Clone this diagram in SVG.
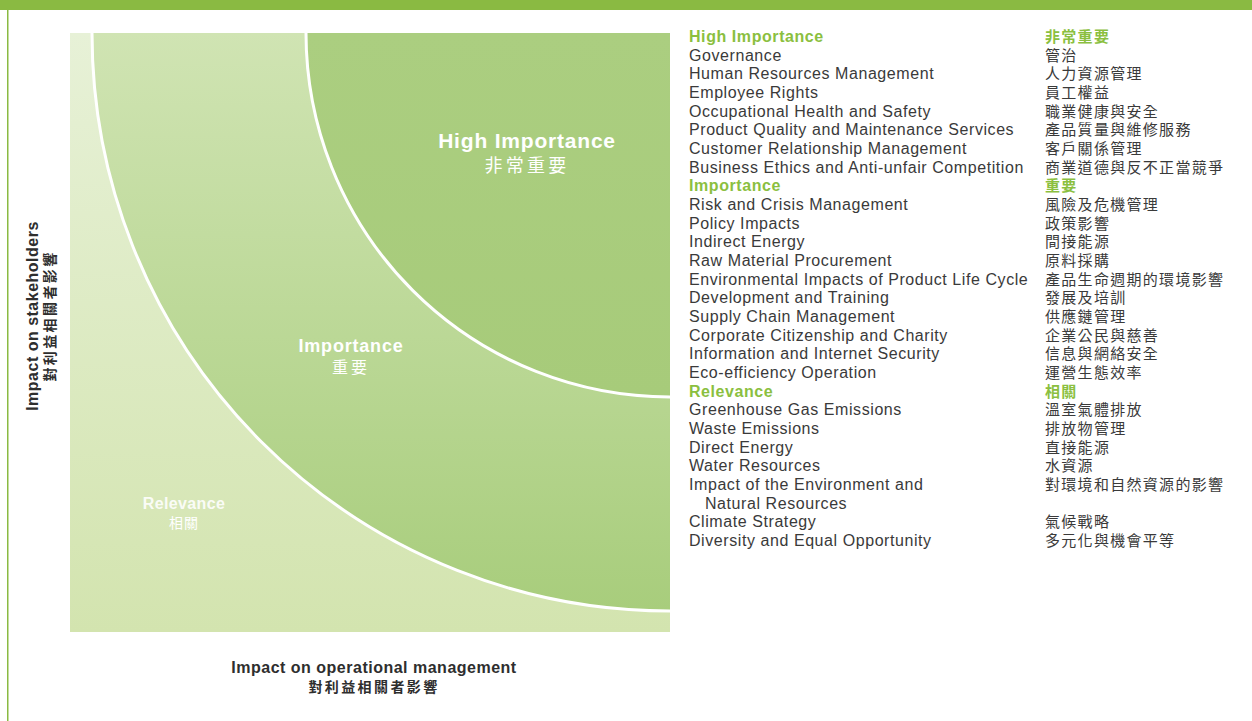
<svg xmlns="http://www.w3.org/2000/svg" width="1252" height="721" viewBox="0 0 1252 721">
<defs>
<linearGradient id="gRel" x1="0" y1="0" x2="0" y2="1"><stop offset="0" stop-color="#e7f1d7"/><stop offset="1" stop-color="#d3e4af"/></linearGradient>
<linearGradient id="gImp" x1="0" y1="0" x2="0" y2="1"><stop offset="0" stop-color="#d0e4b3"/><stop offset="1" stop-color="#a8cd7c"/></linearGradient>
<linearGradient id="gHigh" x1="0" y1="0" x2="0" y2="1"><stop offset="0" stop-color="#abce80"/><stop offset="1" stop-color="#a7cb7a"/></linearGradient>
<style>
.en{font-family:"Liberation Sans",Arial,sans-serif;font-size:16px;fill:#3a3a3a;letter-spacing:0.57px}
.zh{font-family:"Noto Sans CJK TC","Noto Sans CJK SC",sans-serif;font-size:15px;fill:#3a3a3a;letter-spacing:1.3px}
.hd{fill:#8bbf3f;font-weight:bold}
.lbl{font-family:"Liberation Sans",Arial,sans-serif;font-weight:bold;fill:#ffffff;text-anchor:middle}
.lblz{font-family:"Noto Sans CJK TC","Noto Sans CJK SC",sans-serif;fill:#ffffff;text-anchor:middle}
.ax{font-family:"Liberation Sans",Arial,sans-serif;font-weight:bold;font-size:16px;fill:#2e2e2e;text-anchor:middle;letter-spacing:0.5px}
.axz{font-family:"Noto Sans CJK TC","Noto Sans CJK SC",sans-serif;font-weight:bold;font-size:14px;fill:#2e2e2e;text-anchor:middle;letter-spacing:2.4px}
.sep{fill:none;stroke:#ffffff;stroke-width:3}
</style>
</defs>
<rect x="0" y="0" width="1252" height="721" fill="#ffffff"/>
<rect x="0" y="0" width="1252" height="10" fill="#8aba42"/>
<rect x="7" y="10" width="1.5" height="711" fill="#8aba42"/>

<g id="relevance">
<rect x="70" y="33" width="600" height="599" fill="url(#gRel)"/>
<text class="lbl" x="184" y="509" font-size="16" letter-spacing="0.35" fill-opacity="0.9">Relevance</text>
<text class="lblz" x="184" y="528" font-size="14" letter-spacing="1">相關</text>
</g>
<g id="importance">
<path d="M670,33 L92,33 A578,578 0 0 0 670,611 Z" fill="url(#gImp)"/>
<path class="sep" d="M92,33 A578,578 0 0 0 670,611"/>
<text class="lbl" x="351" y="352" font-size="18" letter-spacing="0.8">Importance</text>
<text class="lblz" x="351" y="373" font-size="16" letter-spacing="3">重要</text>
</g>
<g id="high-importance">
<path d="M670,33 L306,33 A364,364 0 0 0 670,397 Z" fill="url(#gHigh)"/>
<path class="sep" d="M306,33 A364,364 0 0 0 670,397"/>
<text class="lbl" x="527" y="148" font-size="21" letter-spacing="0.8">High Importance</text>
<text class="lblz" x="527" y="172" font-size="18" letter-spacing="3.2">非常重要</text>
</g>

<g id="y-axis">
<text class="ax" transform="translate(38,316) rotate(-90)">Impact on stakeholders</text>
<text class="axz" transform="translate(55,316) rotate(-90)">對利益相關者影響</text>
</g>
<g id="x-axis">
<text class="ax" x="374" y="673">Impact on operational management</text>
<text class="axz" x="374" y="692">對利益相關者影響</text>
</g>

<g id="list-en">
<text class="en hd" x="689" y="42">High Importance</text>
<text class="en" x="689" y="60.7">Governance</text>
<text class="en" x="689" y="79.3">Human Resources Management</text>
<text class="en" x="689" y="98">Employee Rights</text>
<text class="en" x="689" y="116.7">Occupational Health and Safety</text>
<text class="en" x="689" y="135.3">Product Quality and Maintenance Services</text>
<text class="en" x="689" y="154">Customer Relationship Management</text>
<text class="en" x="689" y="172.7">Business Ethics and Anti-unfair Competition</text>
<text class="en hd" x="689" y="191.3">Importance</text>
<text class="en" x="689" y="210">Risk and Crisis Management</text>
<text class="en" x="689" y="228.7">Policy Impacts</text>
<text class="en" x="689" y="247.3">Indirect Energy</text>
<text class="en" x="689" y="266">Raw Material Procurement</text>
<text class="en" x="689" y="284.7">Environmental Impacts of Product Life Cycle</text>
<text class="en" x="689" y="303.3">Development and Training</text>
<text class="en" x="689" y="322">Supply Chain Management</text>
<text class="en" x="689" y="340.7">Corporate Citizenship and Charity</text>
<text class="en" x="689" y="359.3">Information and Internet Security</text>
<text class="en" x="689" y="378">Eco-efficiency Operation</text>
<text class="en hd" x="689" y="396.7">Relevance</text>
<text class="en" x="689" y="415.3">Greenhouse Gas Emissions</text>
<text class="en" x="689" y="434">Waste Emissions</text>
<text class="en" x="689" y="452.7">Direct Energy</text>
<text class="en" x="689" y="471.3">Water Resources</text>
<text class="en" x="689" y="490">Impact of the Environment and</text>
<text class="en" x="705" y="508.7">Natural Resources</text>
<text class="en" x="689" y="527.3">Climate Strategy</text>
<text class="en" x="689" y="546">Diversity and Equal Opportunity</text>
</g>

<g id="list-zh">
<text class="zh hd" x="1045" y="42">非常重要</text>
<text class="zh" x="1045" y="60.7">管治</text>
<text class="zh" x="1045" y="79.3">人力資源管理</text>
<text class="zh" x="1045" y="98">員工權益</text>
<text class="zh" x="1045" y="116.7">職業健康與安全</text>
<text class="zh" x="1045" y="135.3">產品質量與維修服務</text>
<text class="zh" x="1045" y="154">客戶關係管理</text>
<text class="zh" x="1045" y="172.7">商業道德與反不正當競爭</text>
<text class="zh hd" x="1045" y="191.3">重要</text>
<text class="zh" x="1045" y="210">風險及危機管理</text>
<text class="zh" x="1045" y="228.7">政策影響</text>
<text class="zh" x="1045" y="247.3">間接能源</text>
<text class="zh" x="1045" y="266">原料採購</text>
<text class="zh" x="1045" y="284.7">產品生命週期的環境影響</text>
<text class="zh" x="1045" y="303.3">發展及培訓</text>
<text class="zh" x="1045" y="322">供應鏈管理</text>
<text class="zh" x="1045" y="340.7">企業公民與慈善</text>
<text class="zh" x="1045" y="359.3">信息與網絡安全</text>
<text class="zh" x="1045" y="378">運營生態效率</text>
<text class="zh hd" x="1045" y="396.7">相關</text>
<text class="zh" x="1045" y="415.3">溫室氣體排放</text>
<text class="zh" x="1045" y="434">排放物管理</text>
<text class="zh" x="1045" y="452.7">直接能源</text>
<text class="zh" x="1045" y="471.3">水資源</text>
<text class="zh" x="1045" y="490">對環境和自然資源的影響</text>
<text class="zh" x="1045" y="527.3">氣候戰略</text>
<text class="zh" x="1045" y="546">多元化與機會平等</text>
</g>
</svg>
